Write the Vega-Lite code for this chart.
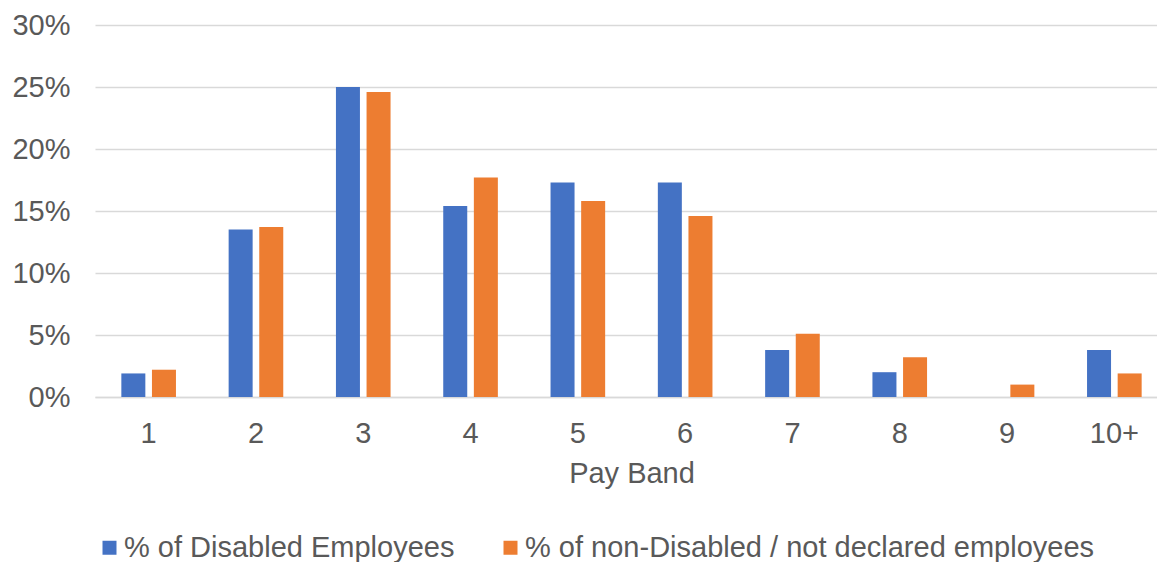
{
  "$schema": "https://vega.github.io/schema/vega-lite/v6.json",
  "autosize": {"type": "none"},
  "width": 1062,
  "height": 372,
  "padding": {"left": 95, "top": 25, "right": 0, "bottom": 165},
  "background": "white",
  "config": {
    "view": {"stroke": null},
    "font": "Liberation Sans",
    "axis": {"labelFont": "Liberation Sans", "titleFont": "Liberation Sans", "labelColor": "#595959", "titleColor": "#595959"},
    "legend": {"labelFont": "Liberation Sans", "labelColor": "#595959"}
  },
  "data": {
    "values": [
      {"band": "1", "series": "% of Disabled Employees", "value": 0.019},
      {"band": "1", "series": "% of non-Disabled / not declared employees", "value": 0.022},
      {"band": "2", "series": "% of Disabled Employees", "value": 0.135},
      {"band": "2", "series": "% of non-Disabled / not declared employees", "value": 0.137},
      {"band": "3", "series": "% of Disabled Employees", "value": 0.250},
      {"band": "3", "series": "% of non-Disabled / not declared employees", "value": 0.246},
      {"band": "4", "series": "% of Disabled Employees", "value": 0.154},
      {"band": "4", "series": "% of non-Disabled / not declared employees", "value": 0.177},
      {"band": "5", "series": "% of Disabled Employees", "value": 0.173},
      {"band": "5", "series": "% of non-Disabled / not declared employees", "value": 0.158},
      {"band": "6", "series": "% of Disabled Employees", "value": 0.173},
      {"band": "6", "series": "% of non-Disabled / not declared employees", "value": 0.146},
      {"band": "7", "series": "% of Disabled Employees", "value": 0.038},
      {"band": "7", "series": "% of non-Disabled / not declared employees", "value": 0.051},
      {"band": "8", "series": "% of Disabled Employees", "value": 0.020},
      {"band": "8", "series": "% of non-Disabled / not declared employees", "value": 0.032},
      {"band": "9", "series": "% of Disabled Employees", "value": 0.0},
      {"band": "9", "series": "% of non-Disabled / not declared employees", "value": 0.010},
      {"band": "10+", "series": "% of Disabled Employees", "value": 0.038},
      {"band": "10+", "series": "% of non-Disabled / not declared employees", "value": 0.019}
    ]
  },
  "mark": {"type": "bar"},
  "encoding": {
    "x": {
      "field": "band",
      "type": "nominal",
      "sort": ["1", "2", "3", "4", "5", "6", "7", "8", "9", "10+"],
      "scale": {"range": [0, 1073], "paddingInner": 0.491, "paddingOuter": 0.2455},
      "axis": {
        "title": "Pay Band",
        "titleFontSize": 29,
        "titleFontWeight": "normal",
        "titlePadding": 11,
        "labelFontSize": 29,
        "labelAngle": 0,
        "labelPadding": 22,
        "ticks": false,
        "tickSize": 0,
        "grid": false,
        "domainColor": "#d9d9d9",
        "domainWidth": 1.5
      }
    },
    "xOffset": {
      "field": "series",
      "type": "nominal",
      "sort": ["% of Disabled Employees", "% of non-Disabled / not declared employees"],
      "scale": {"paddingInner": 0.216, "paddingOuter": 0}
    },
    "y": {
      "field": "value",
      "type": "quantitative",
      "scale": {"domain": [0, 0.3], "nice": false},
      "axis": {
        "title": null,
        "format": ".0%",
        "values": [0, 0.05, 0.1, 0.15, 0.2, 0.25, 0.3],
        "labelFontSize": 29,
        "labelPadding": 25,
        "ticks": false,
        "domain": false,
        "gridColor": "#d9d9d9",
        "gridWidth": 1.3
      }
    },
    "color": {
      "field": "series",
      "type": "nominal",
      "sort": ["% of Disabled Employees", "% of non-Disabled / not declared employees"],
      "scale": {"domain": ["% of Disabled Employees", "% of non-Disabled / not declared employees"], "range": ["#4472C4", "#ED7D31"]},
      "legend": {
        "title": null,
        "orient": "none",
        "direction": "horizontal",
        "legendX": 0,
        "legendY": 508,
        "symbolType": "square",
        "symbolSize": 196,
        "symbolStrokeWidth": 0,
        "symbolOpacity": 1,
        "labelFontSize": 29,
        "labelOffset": 0,
        "columnPadding": 41,
        "labelLimit": 800
      }
    }
  }
}
